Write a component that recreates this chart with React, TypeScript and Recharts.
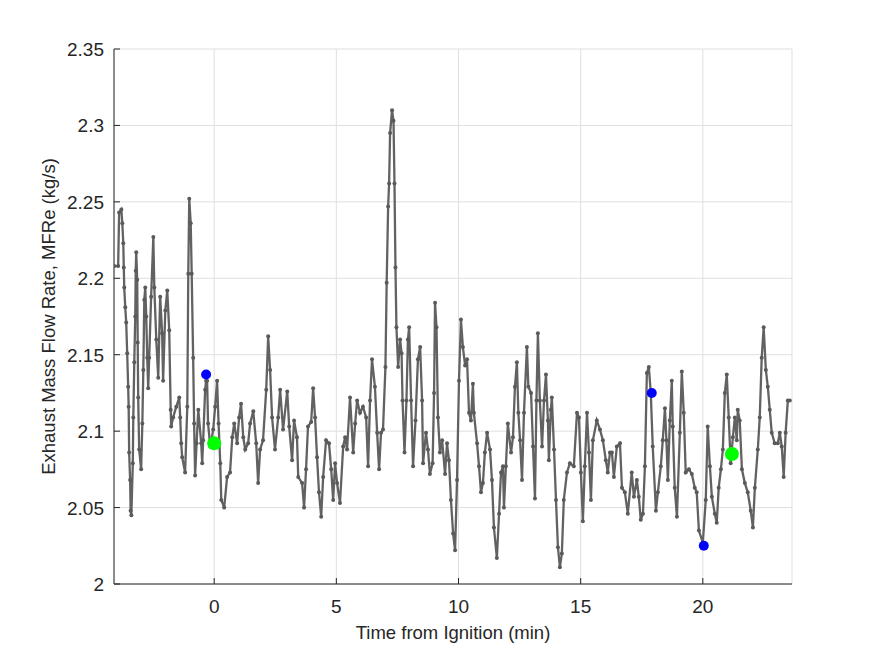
import React from 'react';
import { ComposedChart, Line, Scatter, XAxis, YAxis, CartesianGrid } from 'recharts';

// time from ignition (min)
const timeMin = [
  -4.09, -3.93, -3.89, -3.80, -3.76, -3.72, -3.70, -3.68, -3.64, -3.60,
  -3.56, -3.52, -3.50, -3.48, -3.44, -3.42, -3.39, -3.33, -3.31, -3.27,
  -3.23, -3.21, -3.19, -3.15, -3.13, -3.11, -3.07, -2.99, -2.94, -2.90,
  -2.86, -2.82, -2.78, -2.74, -2.70, -2.66, -2.58, -2.49, -2.45, -2.37,
  -2.29, -2.21, -2.13, -2.09, -2.00, -1.92, -1.84, -1.78, -1.76, -1.68,
  -1.55, -1.43, -1.39, -1.35, -1.31, -1.19, -1.10, -1.06, -1.02, -0.96,
  -0.92, -0.86, -0.82, -0.78, -0.72, -0.65, -0.53, -0.49, -0.45, -0.37,
  -0.33, -0.29, -0.25, -0.16, -0.04, 0.04, 0.12, 0.18, 0.25, 0.29,
  0.41, 0.53, 0.65, 0.74, 0.82, 0.94, 1.02, 1.10, 1.19, 1.27,
  1.39, 1.47, 1.60, 1.72, 1.80, 1.88, 2.00, 2.13, 2.21, 2.29,
  2.37, 2.49, 2.62, 2.70, 2.82, 2.99, 3.07, 3.19, 3.27, 3.39,
  3.44, 3.60, 3.68, 3.76, 3.84, 3.97, 4.05, 4.13, 4.21, 4.29,
  4.38, 4.46, 4.58, 4.70, 4.79, 4.87, 4.95, 5.03, 5.15, 5.28,
  5.36, 5.44, 5.56, 5.69, 5.77, 5.85, 5.97, 6.09, 6.22, 6.30,
  6.38, 6.46, 6.58, 6.67, 6.75, 6.83, 6.91, 7.01, 7.06, 7.12,
  7.16, 7.20, 7.28, 7.34, 7.38, 7.42, 7.46, 7.53, 7.61, 7.67,
  7.71, 7.79, 7.87, 7.93, 7.98, 8.06, 8.14, 8.24, 8.34, 8.43,
  8.51, 8.55, 8.67, 8.75, 8.83, 8.94, 9.00, 9.04, 9.10, 9.16,
  9.24, 9.33, 9.45, 9.53, 9.61, 9.69, 9.78, 9.86, 9.94, 10.02,
  10.10, 10.18, 10.27, 10.35, 10.43, 10.51, 10.59, 10.63, 10.76, 10.84,
  10.92, 11.00, 11.08, 11.17, 11.29, 11.37, 11.45, 11.57, 11.66, 11.74,
  11.82, 11.86, 11.94, 12.02, 12.15, 12.23, 12.31, 12.39, 12.45, 12.52,
  12.60, 12.68, 12.80, 12.86, 12.97, 13.05, 13.13, 13.19, 13.25, 13.33,
  13.42, 13.50, 13.58, 13.66, 13.70, 13.78, 13.82, 13.91, 13.99, 14.07,
  14.15, 14.23, 14.31, 14.44, 14.56, 14.72, 14.85, 14.93, 15.01, 15.09,
  15.17, 15.26, 15.34, 15.42, 15.50, 15.66, 15.79, 15.91, 16.03, 16.11,
  16.20, 16.28, 16.36, 16.48, 16.61, 16.69, 16.81, 16.93, 17.09, 17.18,
  17.30, 17.38, 17.46, 17.55, 17.63, 17.71, 17.79, 17.87, 17.95, 18.08,
  18.16, 18.28, 18.36, 18.45, 18.51, 18.57, 18.65, 18.73, 18.77, 18.85,
  18.94, 19.06, 19.14, 19.22, 19.30, 19.43, 19.55, 19.67, 19.75, 19.84,
  20.00, 20.12, 20.20, 20.29, 20.37, 20.49, 20.57, 20.65, 20.74, 20.82,
  20.90, 20.98, 21.06, 21.14, 21.23, 21.31, 21.39, 21.43, 21.51, 21.60,
  21.72, 21.84, 21.96, 22.05, 22.13, 22.25, 22.33, 22.41, 22.49, 22.58,
  22.66, 22.74, 22.82, 22.94, 23.07, 23.15, 23.23, 23.31, 23.39, 23.48,
  23.56,
];

// exhaust mass flow rate MFRe (kg/s)
const mfre = [
  2.208, 2.208, 2.243, 2.245, 2.236, 2.223, 2.207, 2.194, 2.181, 2.171,
  2.151, 2.129, 2.116, 2.086, 2.068, 2.048, 2.045, 2.079, 2.109, 2.145,
  2.175, 2.205, 2.217, 2.199, 2.158, 2.122, 2.088, 2.075, 2.105, 2.140,
  2.186, 2.194, 2.175, 2.148, 2.128, 2.148, 2.188, 2.227, 2.194, 2.160,
  2.135, 2.188, 2.164, 2.133, 2.179, 2.192, 2.166, 2.114, 2.103, 2.109,
  2.116, 2.122, 2.109, 2.092, 2.083, 2.073, 2.116, 2.203, 2.252, 2.236,
  2.203, 2.148, 2.105, 2.071, 2.092, 2.114, 2.092, 2.079, 2.094, 2.127,
  2.133, 2.133, 2.105, 2.090, 2.101, 2.116, 2.133, 2.105, 2.079, 2.055,
  2.050, 2.070, 2.073, 2.096, 2.105, 2.092, 2.109, 2.118, 2.096, 2.088,
  2.092, 2.105, 2.113, 2.092, 2.066, 2.088, 2.094, 2.127, 2.162, 2.140,
  2.109, 2.088, 2.109, 2.127, 2.101, 2.126, 2.103, 2.081, 2.107, 2.096,
  2.070, 2.066, 2.050, 2.075, 2.103, 2.106, 2.128, 2.109, 2.083, 2.060,
  2.044, 2.070, 2.094, 2.092, 2.075, 2.055, 2.079, 2.066, 2.053, 2.090,
  2.096, 2.088, 2.122, 2.086, 2.105, 2.120, 2.112, 2.116, 2.109, 2.077,
  2.120, 2.147, 2.129, 2.099, 2.075, 2.099, 2.101, 2.142, 2.197, 2.247,
  2.262, 2.295, 2.310, 2.303, 2.262, 2.207, 2.168, 2.142, 2.160, 2.151,
  2.120, 2.086, 2.120, 2.160, 2.168, 2.120, 2.077, 2.107, 2.147, 2.155,
  2.120, 2.079, 2.099, 2.088, 2.072, 2.079, 2.125, 2.184, 2.168, 2.109,
  2.086, 2.094, 2.072, 2.092, 2.081, 2.055, 2.033, 2.022, 2.068, 2.133,
  2.173, 2.155, 2.143, 2.147, 2.112, 2.107, 2.131, 2.112, 2.092, 2.077,
  2.060, 2.066, 2.086, 2.099, 2.088, 2.068, 2.037, 2.017, 2.046, 2.073,
  2.077, 2.050, 2.077, 2.105, 2.086, 2.096, 2.129, 2.145, 2.112, 2.094,
  2.068, 2.112, 2.155, 2.129, 2.125, 2.090, 2.056, 2.120, 2.164, 2.120,
  2.090, 2.120, 2.137, 2.107, 2.081, 2.114, 2.122, 2.088, 2.055, 2.024,
  2.011, 2.020, 2.055, 2.073, 2.079, 2.077, 2.112, 2.109, 2.073, 2.041,
  2.077, 2.112, 2.086, 2.055, 2.094, 2.107, 2.101, 2.094, 2.081, 2.073,
  2.086, 2.086, 2.070, 2.090, 2.092, 2.063, 2.060, 2.046, 2.073, 2.057,
  2.068, 2.057, 2.042, 2.046, 2.077, 2.138, 2.142, 2.125, 2.090, 2.048,
  2.060, 2.077, 2.094, 2.115, 2.094, 2.068, 2.107, 2.133, 2.103, 2.063,
  2.044, 2.099, 2.139, 2.112, 2.073, 2.075, 2.072, 2.063, 2.060, 2.035,
  2.027, 2.055, 2.103, 2.077, 2.057, 2.046, 2.040, 2.063, 2.075, 2.088,
  2.125, 2.137, 2.109, 2.079, 2.096, 2.109, 2.094, 2.114, 2.107, 2.075,
  2.066, 2.060, 2.048, 2.037, 2.063, 2.088, 2.109, 2.148, 2.168, 2.140,
  2.129, 2.114, 2.099, 2.092, 2.092, 2.099, 2.090, 2.070, 2.099, 2.120,
  2.120,
];

// highlighted samples
const blueTime = [-0.33, 17.91, 20.04];
const blueFlow = [2.137, 2.125, 2.025];
const greenTime = [0.0, 21.19];
const greenFlow = [2.092, 2.085];

const xTicks = [0, 5, 10, 15, 20];
const yTicks = [2, 2.05, 2.1, 2.15, 2.2, 2.25, 2.3, 2.35];

const data = timeMin.map((t, i) => ({ t, v: mfre[i] }));
const blueData = blueTime.map((t, i) => ({ t, v: blueFlow[i] }));
const greenData = greenTime.map((t, i) => ({ t, v: greenFlow[i] }));

const FONT = '"Liberation Sans", Arial, Helvetica, sans-serif';
const AXIS = '#262626';

const LeftTick = (props: any) => {
  const { x, y, payload } = props;
  return (
    <g>
      <line x1={x + 10} x2={x + 16} y1={y} y2={y} stroke={AXIS} />
      <text x={x} y={y} dy={7} textAnchor="end" fontSize={19} fill={AXIS} fontFamily={FONT}>
        {payload.value}
      </text>
    </g>
  );
};

const BottomTick = (props: any) => {
  const { x, y, payload } = props;
  return (
    <g>
      <line x1={x} x2={x} y1={y} y2={y - 6} stroke={AXIS} />
      <text x={x} y={y + 29} textAnchor="middle" fontSize={19} fill={AXIS} fontFamily={FONT}>
        {payload.value}
      </text>
    </g>
  );
};

const TopTick = (props: any) => {
  const { x, y } = props;
  return <line x1={x} x2={x} y1={y} y2={y + 6} stroke={AXIS} />;
};

const RightTick = (props: any) => {
  const { x, y } = props;
  return <line x1={x} x2={x - 6} y1={y} y2={y} stroke={AXIS} />;
};

const dotShape = (r: number, color: string) => (props: any) =>
  <circle cx={props.cx} cy={props.cy} r={r} fill={color} />;

export default function App() {
  return (
    <div style={{ position: 'absolute', left: 0, top: 0, width: 875, height: 656, background: '#fff' }}>
      <ComposedChart width={875} height={656} data={data} margin={{ top: 49, right: 83, left: 0, bottom: 0 }}>
        <CartesianGrid stroke="#dfdfdf" strokeWidth={1} />
        <XAxis
          dataKey="t"
          type="number"
          domain={[-4.1, 23.65]}
          ticks={xTicks}
          allowDataOverflow
          height={72}
          tickSize={0}
          tickMargin={0}
          tick={BottomTick}
          axisLine={{ stroke: AXIS }}
          label={{ value: 'Time from Ignition (min)', position: 'insideBottom', offset: 17, fill: AXIS, fontSize: 18.5, fontFamily: FONT }}
        />
        <XAxis
          xAxisId="top"
          orientation="top"
          type="number"
          domain={[-4.1, 23.65]}
          ticks={xTicks}
          allowDataOverflow
          height={0}
          tickSize={0}
          tickMargin={0}
          tick={TopTick}
          axisLine={{ stroke: AXIS }}
        />
        <YAxis
          type="number"
          domain={[2, 2.35]}
          ticks={yTicks}
          allowDataOverflow
          width={114}
          tickSize={0}
          tickMargin={10}
          tick={LeftTick}
          axisLine={{ stroke: AXIS }}
          label={{
            value: 'Exhaust Mass Flow Rate, MFRe (kg/s)',
            angle: -90,
            position: 'insideLeft',
            offset: 48,
            fill: AXIS,
            fontSize: 18.5,
            fontFamily: FONT,
            style: { textAnchor: 'middle' },
          }}
        />
        <YAxis
          yAxisId="right"
          orientation="right"
          type="number"
          domain={[2, 2.35]}
          ticks={yTicks}
          allowDataOverflow
          width={0}
          tickSize={0}
          tickMargin={0}
          tick={RightTick}
          axisLine={{ stroke: AXIS }}
        />
        <Line
          dataKey="v"
          type="linear"
          stroke="#626262"
          strokeWidth={2.3}
          dot={{ r: 2, fill: '#5a5a5a', stroke: 'none' }}
          activeDot={false}
          isAnimationActive={false}
        />
        <Scatter data={blueData} dataKey="v" fill="#0000ff" shape={dotShape(5, '#0000ff')} isAnimationActive={false} />
        <Scatter data={greenData} dataKey="v" fill="#00ff00" shape={dotShape(7, '#00ff00')} isAnimationActive={false} />
      </ComposedChart>
    </div>
  );
}
